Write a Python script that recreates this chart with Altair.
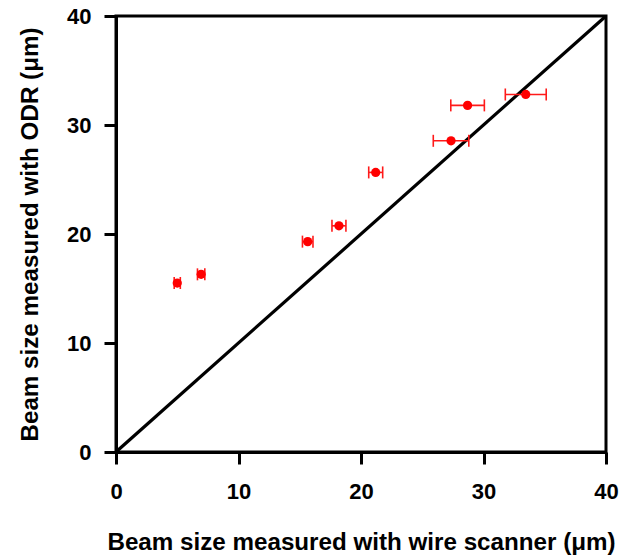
import altair as alt
import pandas as pd

# Data
wire = [5.0, 6.95, 15.65, 18.2, 21.2, 27.35, 28.7, 33.45]
odr = [15.5, 16.3, 19.3, 20.75, 25.65, 28.55, 31.8, 32.8]
wire_err = [0.25, 0.3, 0.43, 0.57, 0.57, 1.45, 1.37, 1.67]
ticks = [0, 10, 20, 30, 40]
diag_x = [0, 40]
diag_y = [0, 40]

df = pd.DataFrame({
    "x": wire,
    "y": odr,
    "lo": [a - e for a, e in zip(wire, wire_err)],
    "hi": [a + e for a, e in zip(wire, wire_err)],
})
diag = pd.DataFrame({"x": diag_x, "y": diag_y})

FONT = "Liberation Sans"

xs = alt.Scale(domain=[0, 40], nice=False, zero=False)
ys = alt.Scale(domain=[0, 40], nice=False, zero=False)

xaxis = alt.Axis(
    values=ticks, grid=False, title="Beam size measured with wire scanner (\u03bcm)",
    labelPadding=17, labelFlush=False, titleY=97, titleBaseline="alphabetic",
)
yaxis = alt.Axis(
    values=ticks, grid=False, title="Beam size measured with ODR (\u03bcm)",
    labelPadding=13, labelFlush=False, titleX=-79, titleY=218, titleAngle=270,
    titleBaseline="alphabetic", titleAlign="center",
)

line = alt.Chart(diag).mark_line(color="black", strokeWidth=3.2, clip=True).encode(
    x=alt.X("x:Q", scale=xs, axis=xaxis),
    y=alt.Y("y:Q", scale=ys, axis=yaxis),
)

ERR = "#ff1a1a"
bars = alt.Chart(df).mark_rule(color=ERR, strokeWidth=1.6).encode(
    x=alt.X("lo:Q", scale=xs),
    x2="hi:Q",
    y=alt.Y("y:Q", scale=ys),
)

cap_lo = alt.Chart(df).mark_tick(color=ERR, thickness=1.6, size=12, orient="vertical", opacity=1).encode(
    x=alt.X("lo:Q", scale=xs),
    y=alt.Y("y:Q", scale=ys),
)
cap_hi = alt.Chart(df).mark_tick(color=ERR, thickness=1.6, size=12, orient="vertical", opacity=1).encode(
    x=alt.X("hi:Q", scale=xs),
    y=alt.Y("y:Q", scale=ys),
)

pts = alt.Chart(df).mark_circle(color="#ff0000", opacity=1, size=85).encode(
    x=alt.X("x:Q", scale=xs),
    y=alt.Y("y:Q", scale=ys),
)

chart = alt.layer(line, bars, cap_lo, cap_hi, pts).properties(
    width=490, height=436,
    autosize=alt.AutoSizeParams(type="none"),
    padding={"left": 116, "top": 16, "right": 19, "bottom": 104},
    background="white",
).configure_view(
    stroke="black", strokeWidth=3,
).configure_axis(
    domainColor="black", domainWidth=3, tickColor="black", tickWidth=3, tickSize=12,
    labelFont=FONT, labelFontSize=22, labelFontWeight="bold", labelColor="black",
    titleFont=FONT, titleFontSize=24.2, titleFontWeight="bold", titleColor="black",
)

chart.save("out.html", embed_options={"renderer": "svg", "actions": False})
